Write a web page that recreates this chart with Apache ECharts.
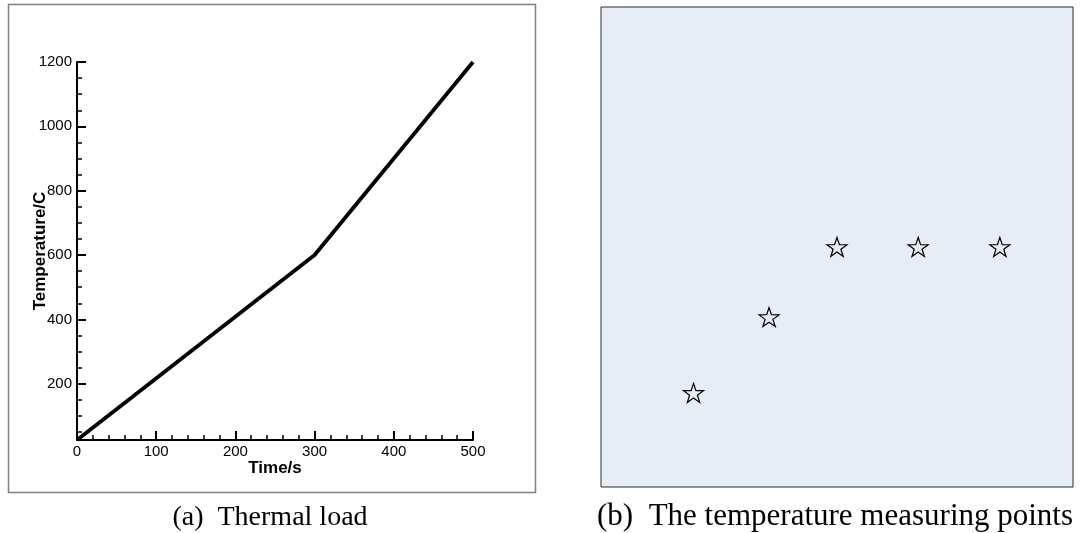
<!DOCTYPE html>
<html>
<head>
<meta charset="utf-8">
<script src="https://cdn.jsdelivr.net/npm/echarts@6/dist/echarts.min.js"></script>
<style>
  html, body { margin: 0; padding: 0; background: #fff; }
  #chart { width: 1084px; height: 533px; }
</style>
</head>
<body>
<div id="chart"></div>
<script>
  // thermal load curve (time in s, temperature in C)
  var loadTime = [0, 300, 500]
  var loadTemp = [25, 600, 1200]
  var tempMajor = [200, 400, 600, 800, 1000, 1200]
  var tempMinor = [50, 100, 150, 250, 300, 350, 450, 500, 550, 650, 700, 750, 850, 900, 950, 1050, 1100, 1150]

  // measuring points, in % of the plate width / height
  var pointX = [19.6, 35.6, 50, 67.2, 84.5]
  var pointY = [19.6, 35.4, 50, 50, 50]

  var captionA = '(a)  Thermal load'
  var captionB = '(b)  The temperature measuring points'

  function starPath () {
    var pts = []
    for (var i = 0; i < 10; i++) {
      var r = i % 2 === 0 ? 10 : 3.9
      var a = (-90 + i * 36) * Math.PI / 180
      pts.push((r * Math.cos(a)).toFixed(3) + ',' + (r * Math.sin(a)).toFixed(3))
    }
    return 'path://M' + pts.join('L') + 'Z'
  }

  var chart = echarts.init(document.getElementById('chart'))
  var sans = 'Liberation Sans, Arial, sans-serif'
  var serif = '"Liberation Serif", "Times New Roman", serif'

  chart.setOption({
    animation: false,
    graphic: [
      {
        type: 'rect',
        shape: { x: 8.5, y: 4.5, width: 527, height: 488 },
        style: { fill: 'none', stroke: '#808080', lineWidth: 1.5 },
        z: 0
      },
      {
        type: 'text',
        x: 270, y: 518,
        style: { text: captionA, fill: '#000', font: '28px ' + serif, align: 'center', verticalAlign: 'middle' }
      },
      {
        type: 'text',
        x: 597, y: 517,
        style: { text: captionB, fill: '#000', font: '31px ' + serif, align: 'left', verticalAlign: 'middle' }
      }
    ],
    grid: [
      { left: 77, right: 611, top: 62, bottom: 93 },
      { left: 601, right: 11, top: 7, bottom: 46, show: true, backgroundColor: '#E7EDF7', borderColor: '#2a2a2a', borderWidth: 1 }
    ],
    xAxis: [
      {
        type: 'value', gridIndex: 0, min: 0, max: 500, interval: 100,
        name: 'Time/s', nameLocation: 'middle', nameGap: 20, nameMoveOverlap: false,
        nameTextStyle: { fontFamily: sans, fontWeight: 'bold', fontSize: 17, color: '#000' },
        axisLine: { show: true, lineStyle: { color: '#000', width: 2 } },
        axisTick: { show: true, inside: true, length: 9, lineStyle: { color: '#000', width: 2 } },
        minorTick: { show: true, splitNumber: 5, length: 5, lineStyle: { color: '#000', width: 1.5 } },
        axisLabel: { fontFamily: sans, fontSize: 15, color: '#000', margin: 4 },
        splitLine: { show: false }
      },
      { type: 'value', gridIndex: 1, min: 0, max: 100, show: false }
    ],
    yAxis: [
      {
        type: 'value', gridIndex: 0, min: 25, max: 1200,
        name: 'Temperature/C', nameLocation: 'middle', nameGap: 28, nameMoveOverlap: false,
        nameTextStyle: { fontFamily: sans, fontWeight: 'bold', fontSize: 17, color: '#000' },
        axisLine: { show: true, lineStyle: { color: '#000', width: 2 } },
        axisTick: { show: true, inside: true, length: 9, customValues: tempMajor, lineStyle: { color: '#000', width: 2 } },
        axisLabel: {
          fontFamily: sans, fontSize: 15, color: '#000', margin: 5, customValues: tempMajor,
          formatter: function (v) { return String(v) }
        },
        splitLine: { show: false }
      },
      {
        type: 'value', gridIndex: 0, min: 25, max: 1200, position: 'left',
        axisLine: { show: false },
        axisTick: { show: true, inside: true, length: 5, customValues: tempMinor, lineStyle: { color: '#000', width: 1.5 } },
        axisLabel: { show: false },
        splitLine: { show: false }
      },
      { type: 'value', gridIndex: 1, min: 0, max: 100, show: false }
    ],
    series: [
      {
        type: 'line', xAxisIndex: 0, yAxisIndex: 0,
        data: loadTime.map(function (t, i) { return [t, loadTemp[i]] }),
        showSymbol: false,
        lineStyle: { color: '#000', width: 3.8 },
        z: 3
      },
      {
        type: 'scatter', xAxisIndex: 1, yAxisIndex: 2,
        data: pointX.map(function (x, i) { return [x, pointY[i]] }),
        symbol: starPath(),
        symbolSize: [20, 19],
        itemStyle: { color: '#E7EDF7', borderColor: '#000', borderWidth: 1.2, opacity: 1 }
      }
    ]
  })
</script>
</body>
</html>
